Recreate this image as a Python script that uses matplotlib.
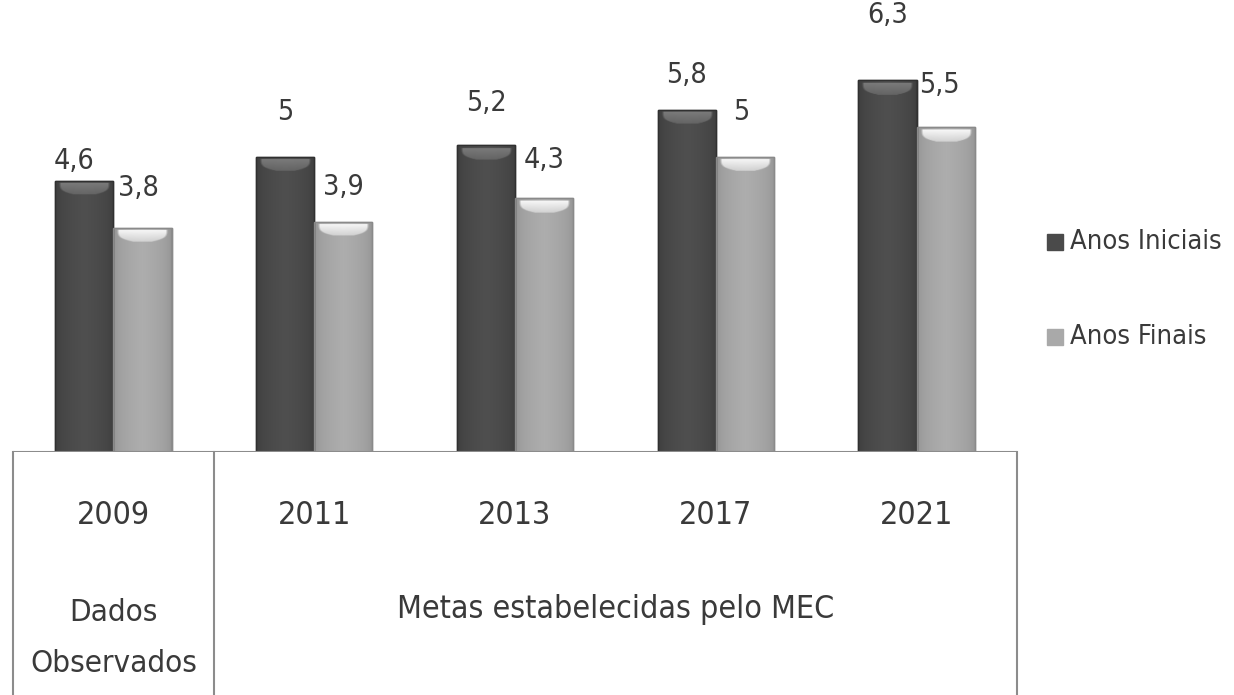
import matplotlib
matplotlib.use("Agg")
import matplotlib.pyplot as plt
import numpy as np
from matplotlib.patches import Rectangle

plt.rcParams['font.family'] = ['DejaVu Sans']
plt.rcParams['font.stretch'] = 'condensed'

# dados
anos = ["2009", "2011", "2013", "2017", "2021"]
anos_iniciais = [4.6, 5.0, 5.2, 5.8, 6.3]
anos_finais = [3.8, 3.9, 4.3, 5.0, 5.5]
rotulos_iniciais = ["4,6", "5", "5,2", "5,8", "6,3"]
rotulos_finais = ["3,8", "3,9", "4,3", "5", "5,5"]
grupos = ["Dados\nObservados", "Metas estabelecidas pelo MEC"]

# deslocamento dos rotulos (pixels: x, y acima do topo da barra)
desl_iniciais = [(-10, 20), (0, 45), (0, 42), (0, 35), (0, 65)]
desl_finais = [(-4, 40), (0, 35), (0, 38), (-4, 45), (-6, 42)]

cor_escura = "#4a4a4a"
cor_clara = "#a9a9a9"
cor_texto = "#3a3a3a"

fig = plt.figure(figsize=(12.34, 6.95), dpi=100)
ax = fig.add_axes([13/1234, 243/695, 1004/1234, 452/695])
x = np.arange(len(anos))
w = 0.29


def barra_3d(ax, xs, vals, borda, c_borda, c_meio, c_brilho):
    bars = ax.bar(xs, vals, w, color=str(c_meio), edgecolor=borda, linewidth=1.0, zorder=2)
    for b in bars:
        x0, y0 = b.get_x(), b.get_y()
        bw, bh = b.get_width(), b.get_height()
        nx, ny = 60, 400
        t = np.linspace(0, 1, nx)
        perfil = np.clip(1 - np.abs(t - 0.5) * 2, 0, 1) ** 0.35
        base = c_borda + (c_meio - c_borda) * perfil
        ys = np.linspace(bh, 0, ny)  # linha 0 = topo
        d = bh - ys
        img = np.tile(base[np.newaxis, :], (ny, 1))
        # faixa clara arredondada no topo
        ini, banda = 0.04, 0.24
        env = np.clip(1 - np.abs(t - 0.5) * 2, 0, 1)
        for i in range(ny):
            if ini < d[i] < banda:
                k = (d[i] - ini) / (banda - ini)
                larg = 0.12 + 0.5 * k ** 4
                a = np.clip((env - larg) / 0.08, 0, 1) * (1 - 0.5 * k)
                img[i] = img[i] + (c_brilho - img[i]) * a
        rgb = np.dstack([img, img, img])
        im = ax.imshow(rgb, extent=[x0, x0 + bw, y0, y0 + bh], aspect="auto",
                       zorder=3, interpolation="bilinear")
        im.set_clip_path(b)
        ax.add_patch(Rectangle((x0, y0), bw, bh, fill=False, edgecolor=borda,
                               lw=1.0, zorder=5))
    return bars


b1 = barra_3d(ax, x - w / 2, anos_iniciais, "#303030", 0.22, 0.31, 0.48)
b2 = barra_3d(ax, x + w / 2, anos_finais, "#8a8a8a", 0.55, 0.68, 0.97)

for xi, v, r, (dx, dy) in zip(x - w / 2, anos_iniciais, rotulos_iniciais, desl_iniciais):
    ax.annotate(r, (xi, v), xytext=(dx * 0.72, dy * 0.72), textcoords="offset points",
                ha="center", va="center", fontsize=20.5, color=cor_texto)
for xi, v, r, (dx, dy) in zip(x + w / 2, anos_finais, rotulos_finais, desl_finais):
    ax.annotate(r, (xi, v), xytext=(dx * 0.72, dy * 0.72), textcoords="offset points",
                ha="center", va="center", fontsize=20.5, color=cor_texto)

ax.set_xlim(-0.5, len(anos) - 0.5)
ax.set_ylim(0, 7.66)
ax.axis("off")
ax.axhline(0, color="#8c8c8c", lw=1.5, zorder=6)

# tabela inferior
tab = fig.add_axes([13/1234, 0, 1004/1234, 243/695])
tab.set_xlim(-0.5, len(anos) - 0.5)
tab.set_ylim(0, 1)
tab.axis("off")
for xv in [-0.5, 0.5, len(anos) - 0.5]:
    tab.plot([xv, xv], [0, 1], color="#8c8c8c", lw=1.5, clip_on=False)
for xi, a in zip(x, anos):
    tab.text(xi, 0.74, a, ha="center", va="center", fontsize=23, color=cor_texto)
tab.text(0, 0.235, grupos[0], ha="center", va="center", fontsize=22.5,
         color=cor_texto, linespacing=1.95)
tab.text(2.5, 0.35, grupos[1], ha="center", va="center", fontsize=23, color=cor_texto)

# legenda
fig.patches.append(Rectangle((1047/1234, 1 - 250/695), 16/1234, 16/695,
                             transform=fig.transFigure, color=cor_escura))
fig.patches.append(Rectangle((1047/1234, 1 - 345/695), 16/1234, 16/695,
                             transform=fig.transFigure, color=cor_clara))
fig.text(1070/1234, 1 - 242/695, "Anos Iniciais", ha="left", va="center",
         fontsize=19.5, color=cor_texto)
fig.text(1070/1234, 1 - 337/695, "Anos Finais", ha="left", va="center",
         fontsize=19.5, color=cor_texto)

fig.savefig("out.png", dpi=100)
